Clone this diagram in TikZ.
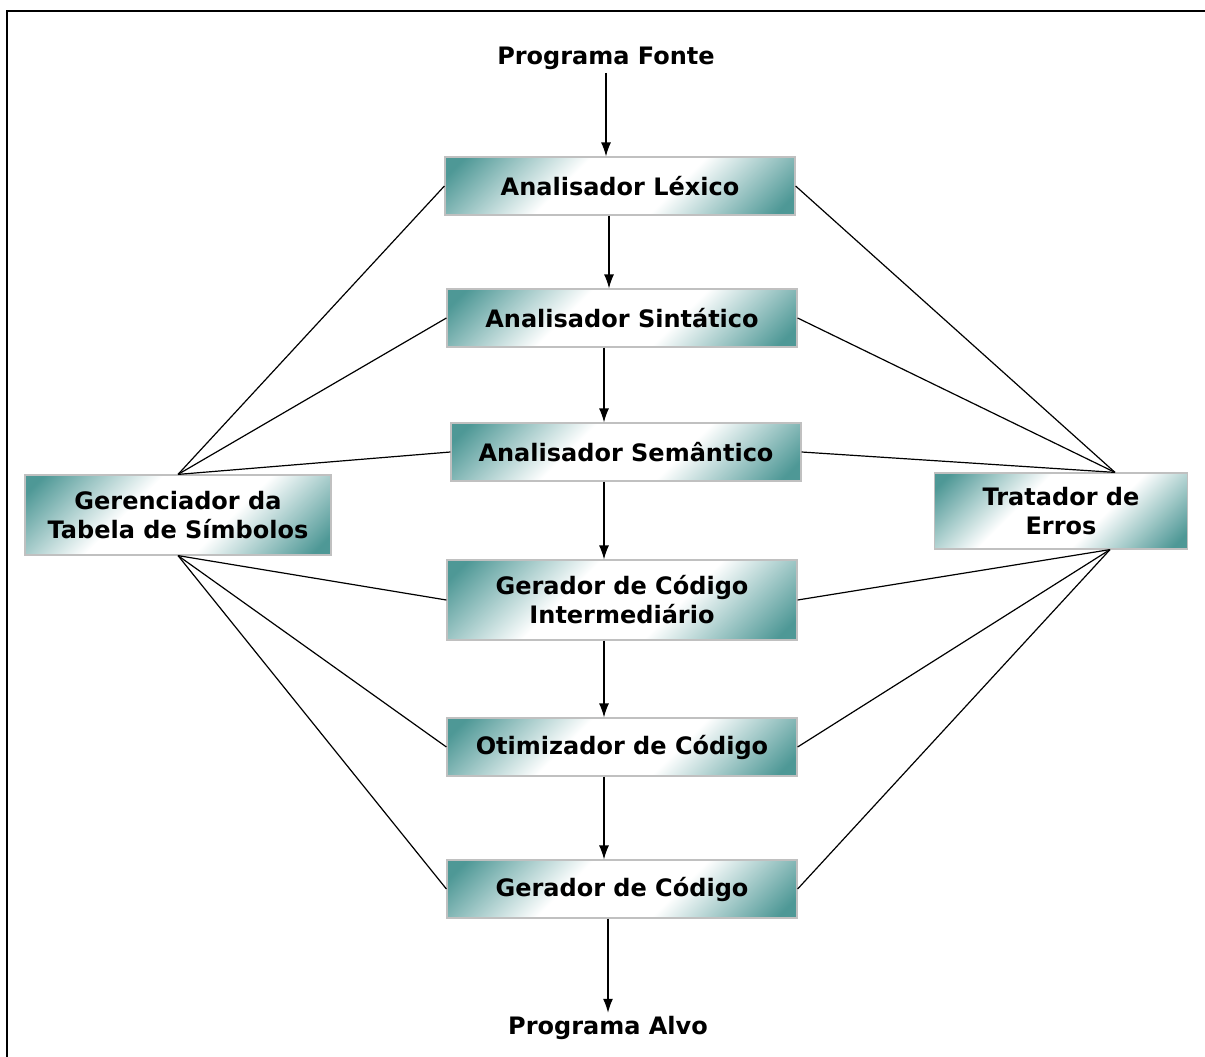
\documentclass[tikz,border=0pt]{standalone}
\usepackage{fontspec}
\setmainfont{DejaVu Sans}
\usetikzlibrary{arrows.meta, positioning, calc}
\definecolor{fasegreen}{RGB}{78,152,150}
\definecolor{fasebord}{RGB}{192,192,192}
\pgfdeclarehorizontalshading{faseshade}{100bp}{color(0bp)=(fasegreen);
    color(18bp)=(fasegreen); color(40bp)=(white); color(60bp)=(white);
    color(82bp)=(fasegreen); color(100bp)=(fasegreen)}

\begin{document}
\begin{tikzpicture}[x=1pt, y=-1pt,
    fase/.style={rectangle, draw=fasebord, line width=1.2pt,
                 shading=faseshade, shading angle=-45,
                 minimum width=350pt, minimum height=58pt,
                 font=\fontsize{24}{29}\selectfont\bfseries,
                 align=center, inner sep=2pt},
    lado/.style={fase, minimum height=80pt},
    rotulo/.style={font=\fontsize{24}{29}\selectfont\bfseries},
    arr/.style={-{Latex[length=14pt, width=10pt]}, line width=1.2pt},
    liga/.style={line width=1.2pt}
]
    \useasboundingbox (0,0) rectangle (1205,1057);
    \draw[line width=2.5pt] (7,1057) -- (7,11) -- (1205,11);

    \node[rotulo] (fonte) at (606,58) {Programa Fonte};
    \node[fase] (lex) at (620,186) {Analisador Léxico};
    \node[fase] (sint) at (622,318) {Analisador Sintático};
    \node[fase] (sem) at (626,452) {Analisador Semântico};
    \node[fase, minimum height=80pt] (inter) at (622,600)
        {Gerador de Código\\Intermediário};
    \node[fase] (otim) at (622,747) {Otimizador de Código};
    \node[fase] (ger) at (622,889) {Gerador de Código};
    \node[rotulo] (alvo) at (608,1028) {Programa Alvo};

    \node[lado, minimum width=306pt] (tab) at (178,515)
        {Gerenciador da\\Tabela de Símbolos};
    \node[lado, minimum width=253pt, minimum height=76pt] (err) at (1061,511)
        {Tratador de\\Erros};

    \coordinate (errtop) at ($(err.north)+(54,0)$);
    \coordinate (errbot) at ($(err.south)+(49,0)$);

    % setas verticais do fluxo
    \draw[arr] (fonte.south) -- (fonte.south |- lex.north);
    \draw[arr] ([xshift=-11pt]lex.south) -- ([xshift=-11pt]lex.south |- sint.north);
    \draw[arr] ([xshift=-18pt]sint.south) -- ([xshift=-18pt]sint.south |- sem.north);
    \draw[arr] ([xshift=-22pt]sem.south) -- ([xshift=-22pt]sem.south |- inter.north);
    \draw[arr] ([xshift=-18pt]inter.south) -- ([xshift=-18pt]inter.south |- otim.north);
    \draw[arr] ([xshift=-18pt]otim.south) -- ([xshift=-18pt]otim.south |- ger.north);
    \draw[arr] ([xshift=-14pt]ger.south) -- ([xshift=-14pt]ger.south |- alvo.north);

    \foreach \f in {lex, sint, sem}
        \draw[liga] (tab.north) -- (\f.west);
    \foreach \f in {inter, otim, ger}
        \draw[liga] (tab.south) -- (\f.west);
    \foreach \f in {lex, sint, sem}
        \draw[liga] (errtop) -- (\f.east);
    \foreach \f in {inter, otim, ger}
        \draw[liga] (errbot) -- (\f.east);
\end{tikzpicture}
\end{document}
